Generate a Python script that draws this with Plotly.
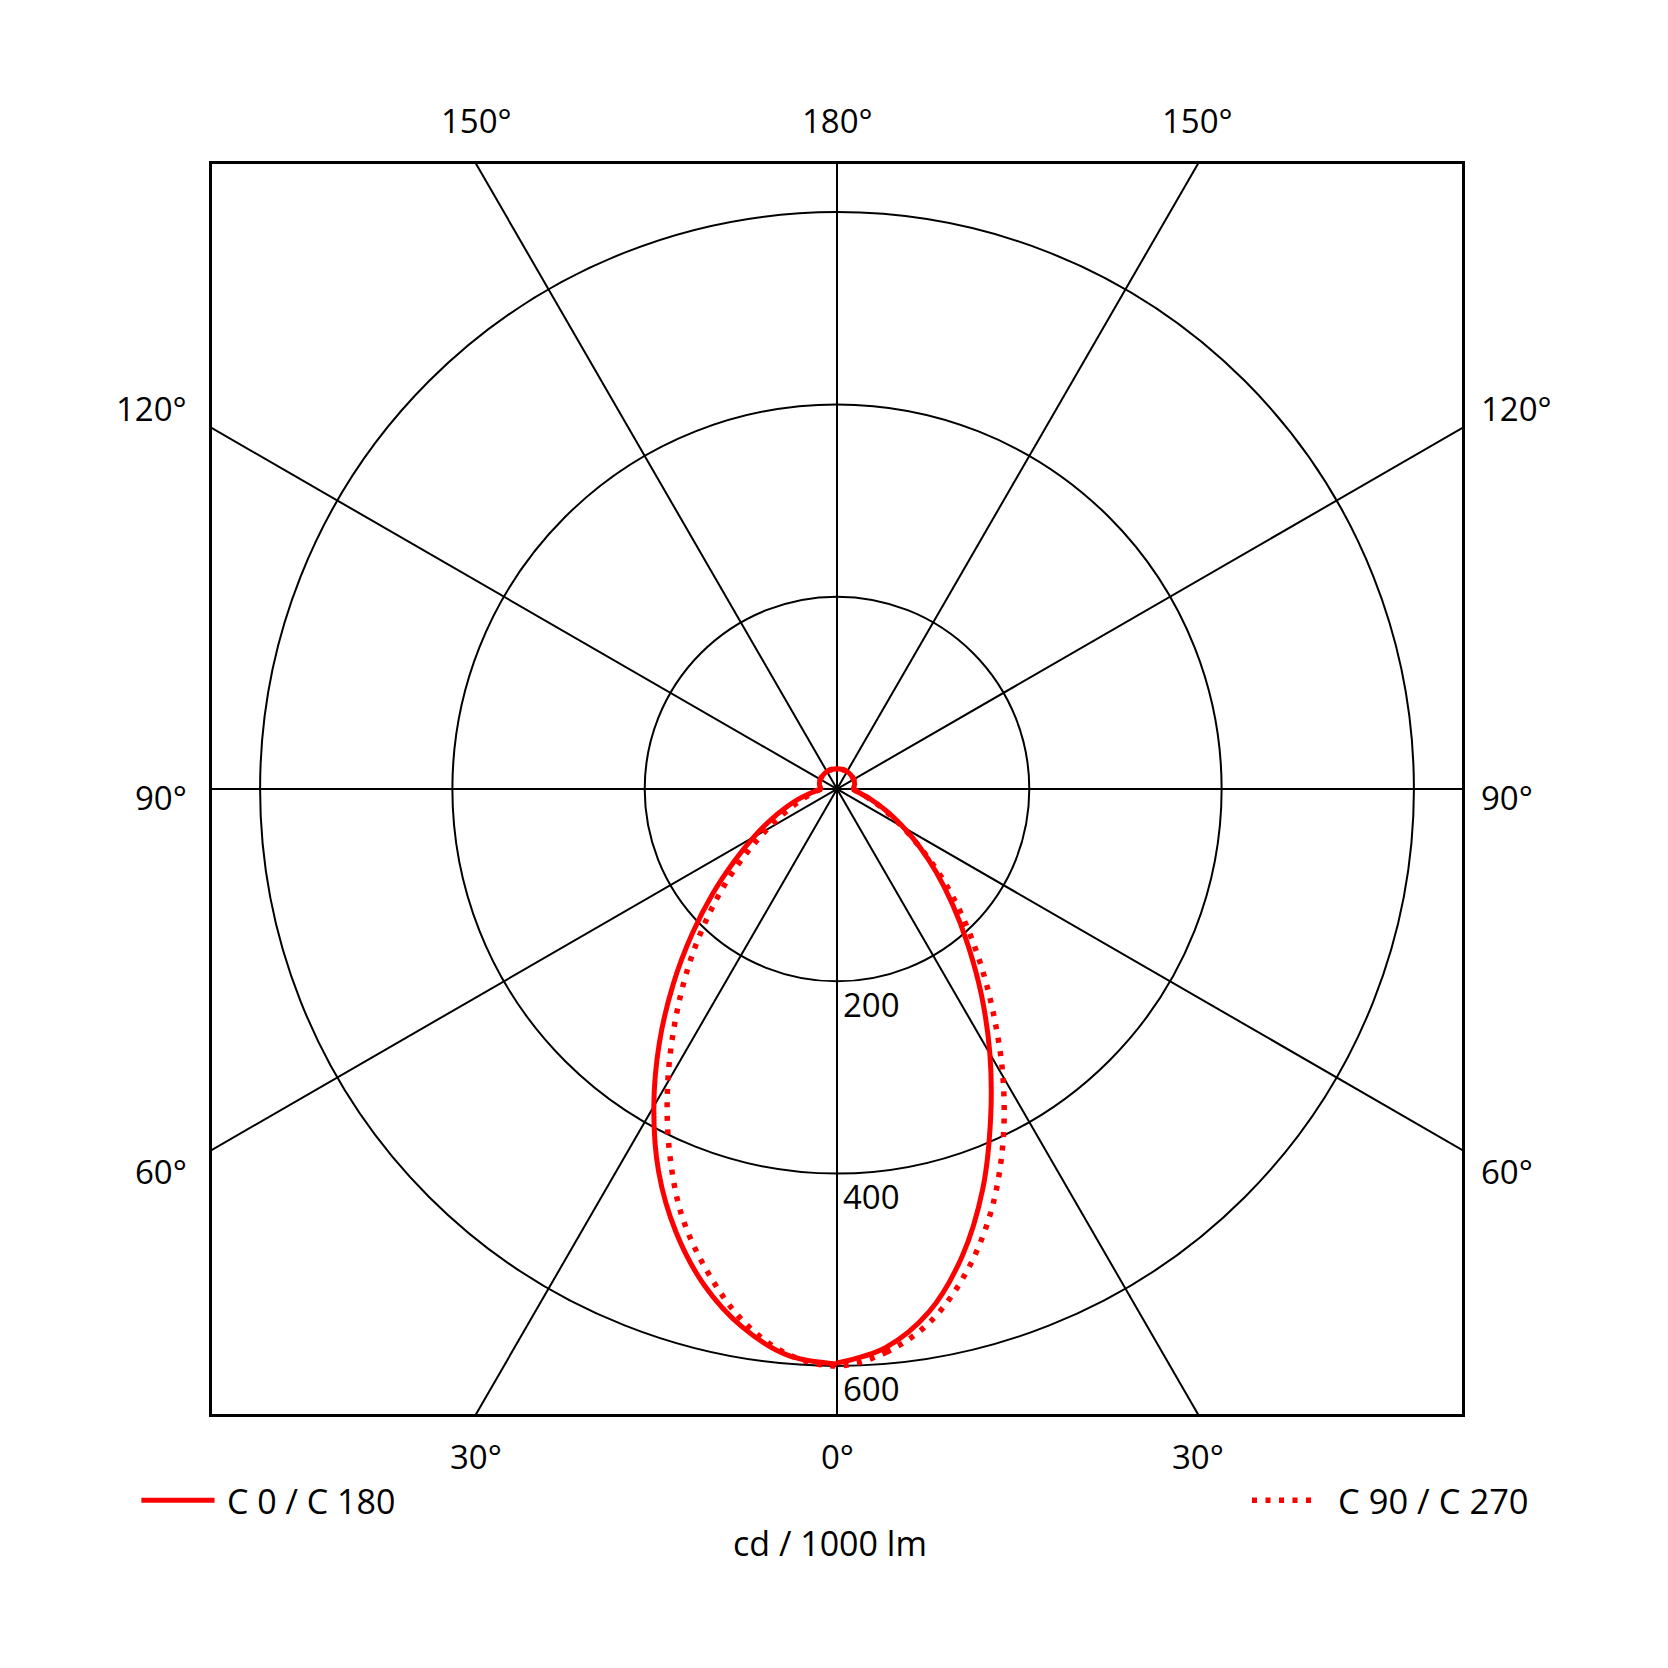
import numpy as np
import plotly.graph_objects as go

# angulos gamma (0 = hacia abajo) y valores en cd / 1000 lm
GAMMA = [0, 5, 10, 15, 20, 25, 30, 35, 40, 45, 50, 55, 60, 65, 70, 75, 80, 85, 90]
GAMMA_SUP = [105, 120, 135, 150, 165, 180]

C0 = [597, 583, 552, 503, 443, 378, 318, 262, 212, 170, 135, 105, 80, 60, 44, 32, 24, 19, 17]
C180 = [598, 591, 568, 534, 490, 439, 381, 322, 265, 213, 168, 130, 100, 76, 57, 42, 30, 22, 17]
C90 = [600, 588, 562, 520, 468, 408, 345, 283, 229, 182, 141, 105, 78, 58, 43, 32, 25, 20, 17]
C270 = [600, 590, 562, 520, 472, 413, 352, 293, 240, 192, 150, 113, 84, 62, 46, 35, 27, 21, 17]
SUPERIOR = [19, 20, 20.5, 21, 21, 21]

ANILLOS = [200, 400, 600]
RADIOS = [0, 30, 60, 90, 120, 150]
R_MAX = 650

ROJO = "#ff0000"
FUENTE = "Open Sans, Noto Sans, sans-serif"
PUNTEADO = "5px,8.5px"


def contorno(derecha, izquierda):
    g = np.radians(np.array(GAMMA + GAMMA_SUP, dtype=float))
    r_der = np.array(derecha + SUPERIOR, dtype=float)
    r_izq = np.array(izquierda + SUPERIOR, dtype=float)
    x = np.concatenate([r_der * np.sin(g), (-r_izq * np.sin(g))[::-1]])
    y = np.concatenate([-r_der * np.cos(g), (-r_izq * np.cos(g))[::-1]])
    return x, y


fig = go.Figure()

# lineas radiales cada 30 grados
for a in RADIOS:
    t = np.radians(a)
    largo = 2000
    fig.add_trace(go.Scatter(
        x=[-largo * np.sin(t), largo * np.sin(t)],
        y=[largo * np.cos(t), -largo * np.cos(t)],
        mode="lines",
        line=dict(color="black", width=2),
        hoverinfo="skip",
        showlegend=False
    ))

# circulos de intensidad
for r in ANILLOS:
    fig.add_shape(
        type="circle", xref="x", yref="y",
        x0=-r, x1=r, y0=-r, y1=r,
        line=dict(color="black", width=2),
        layer="below"
    )
    fig.add_annotation(
        x=0, y=-r, xref="x", yref="y",
        text=str(r), showarrow=False,
        xanchor="left", yanchor="middle",
        xshift=4, yshift=-23,
        font=dict(family=FUENTE, size=33, color="black")
    )

x, y = contorno(C90, C270)
fig.add_trace(go.Scatter(
    x=x, y=y, mode="lines", name="C 90 / C 270",
    line=dict(color=ROJO, width=5.5, dash=PUNTEADO, shape="spline", smoothing=1),
    showlegend=False
))

x, y = contorno(C0, C180)
fig.add_trace(go.Scatter(
    x=x, y=y, mode="lines", name="C 0 / C 180",
    line=dict(color=ROJO, width=5, shape="spline", smoothing=1),
    showlegend=False
))


# etiquetas (coordenadas de papel)
def etiqueta(texto, xp, yp, anclaje="center", tam=33):
    fig.add_annotation(
        x=xp, y=yp, xref="paper", yref="paper",
        text=texto, showarrow=False,
        xanchor=anclaje, yanchor="middle",
        font=dict(family=FUENTE, size=tam, color="black")
    )


d = np.tan(np.radians(30)) / 2
for xp, txt in [(0.5 - d, "150°"), (0.5, "180°"), (0.5 + d, "150°")]:
    etiqueta(txt, xp, 1.035)
for xp, txt in [(0.5 - d, "30°"), (0.5, "0°"), (0.5 + d, "30°")]:
    etiqueta(txt, xp, -0.0338)
for yp, txt in [(0.8045, "120°"), (0.4933, "90°"), (0.194, "60°")]:
    etiqueta(txt, -0.0188, yp, "right")
    etiqueta(txt, 1.0137, yp, "left")

# leyenda manual
fig.add_shape(type="line", xref="paper", yref="paper",
              x0=-0.0565, x1=0.002, y0=-0.069, y1=-0.069,
              line=dict(color=ROJO, width=5))
fig.add_shape(type="line", xref="paper", yref="paper",
              x0=0.832, x1=0.882, y0=-0.069, y1=-0.069,
              line=dict(color=ROJO, width=5.5, dash=PUNTEADO))
etiqueta("C 0 / C 180", 0.0105, -0.0694, "left", 34)
etiqueta("C 90 / C 270", 0.8993, -0.0694, "left", 34.5)
etiqueta("cd / 1000 lm", 0.4947, -0.1035, "center", 34)

ejes = dict(
    range=[-R_MAX, R_MAX],
    showgrid=False, zeroline=False,
    showticklabels=False, ticks="",
    showline=True, mirror=True,
    linecolor="black", linewidth=3
)

fig.update_layout(
    width=1652, height=1652,
    margin=dict(l=204, r=198, t=156, b=246),
    plot_bgcolor="white", paper_bgcolor="white",
    xaxis=ejes, yaxis=ejes,
    showlegend=False,
    font=dict(family=FUENTE, color="black")
)

fig.write_html("out.html")
